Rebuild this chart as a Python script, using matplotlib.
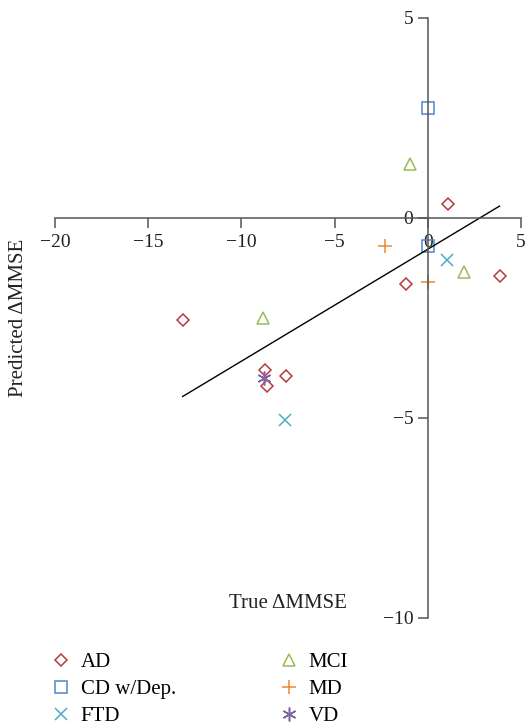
import numpy as np
import matplotlib
matplotlib.use("Agg")
import matplotlib.pyplot as plt

plt.rcParams['font.family'] = ['Liberation Serif', 'DejaVu Serif']
plt.rcParams['axes.unicode_minus'] = True

# data (true vs predicted change in MMSE)
groups = ["AD", "CD w/Dep.", "FTD", "MCI", "MD", "VD"]

ad_x = [1.1, -1.15, 3.85, -13.15, -8.75, -7.6, -8.6]
ad_y = [0.35, -1.65, -1.45, -2.55, -3.8, -3.95, -4.2]
cd_x = [0.0, 0.0]
cd_y = [2.75, -0.7]
ftd_x = [1.05, -7.65]
ftd_y = [-1.05, -5.05]
mci_x = [-0.95, 1.95, -8.85]
mci_y = [1.35, -1.35, -2.5]
md_x = [-2.3, 0.0]
md_y = [-0.7, -1.6]
vd_x = [-8.8]
vd_y = [-4.0]

# regression line
slope = 0.28
intercept = -0.78

xs = [ad_x, cd_x, ftd_x, mci_x, md_x, vd_x]
ys = [ad_y, cd_y, ftd_y, mci_y, md_y, vd_y]
colors = ["#b83a3a", "#4f86c6", "#4bacc6", "#9bbb59", "#f0872e", "#8064a2"]
markers = ["D", "s", "x", "^", "+", (6, 2, 0)]
sizes = [6, 9, 9, 9, 10, 10]

fig = plt.figure(figsize=(5.28, 7.27), dpi=100)
ax = fig.add_axes([55 / 528, 1 - 618 / 727, 466 / 528, 600 / 727])

for name, x, y, c, m, s in zip(groups, xs, ys, colors, markers, sizes):
    ax.plot(x, y, linestyle="none", marker=m, markersize=s,
            markerfacecolor="none", markeredgecolor=c, markeredgewidth=1.1,
            label=name)

all_x = np.concatenate([np.array(v) for v in xs])
fx = np.array([all_x.min(), all_x.max()])
ax.plot(fx, slope * fx + intercept, color="black", lw=1.0)

ax.set_xlim(-20, 5)
ax.set_ylim(-10, 5)
ax.set_xticks([-20, -15, -10, -5, 0, 5])
ax.set_yticks([5, 0, -5, -10])

ax.spines["left"].set_position(("data", 0))
ax.spines["bottom"].set_position(("data", 0))
ax.spines["top"].set_visible(False)
ax.spines["right"].set_visible(False)
for sp in ("left", "bottom"):
    ax.spines[sp].set_color("#555555")
    ax.spines[sp].set_linewidth(1.1)
ax.tick_params(axis="both", direction="out", length=7.5, width=1.1,
               color="#555555", labelsize=14, labelcolor="#222222")
ax.tick_params(axis="x", pad=4)
ax.tick_params(axis="y", pad=3)

ax.set_xlabel("True ΔMMSE", fontsize=15, color="#222222")
ax.xaxis.set_label_coords(0.5, 0.04)
ax.set_ylabel("Predicted ΔMMSE", fontsize=15, color="#222222")
ax.yaxis.set_label_coords(-0.058, 0.5)

fig.legend(loc="upper left", bbox_to_anchor=(36 / 528, 1 - 638 / 727),
           ncol=2, frameon=False, fontsize=15, handlelength=1.0,
           handletextpad=0.45, columnspacing=4.9, labelspacing=0.35,
           borderpad=0.2)

fig.savefig("out.png", dpi=100)
